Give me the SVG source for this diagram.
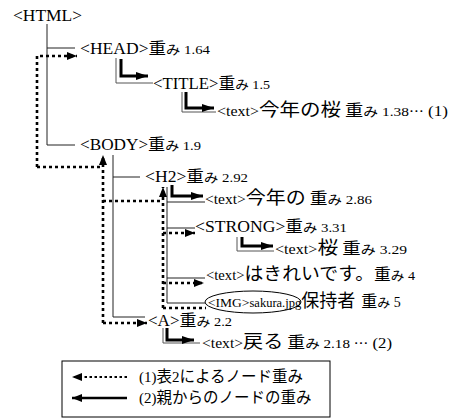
<svg xmlns="http://www.w3.org/2000/svg" width="452" height="419" viewBox="0 0 452 419">
<style>
.t{font-family:"Liberation Serif","Noto Sans CJK JP",serif;font-size:16px;fill:#000}
.s{font-size:14px}
.j{font-family:"Noto Sans CJK JP",sans-serif;font-size:18px}
.w{font-family:"Noto Sans CJK JP",sans-serif;font-size:16px}
.m{font-family:"Noto Sans CJK JP",sans-serif;font-size:13px}
.n{font-size:13.5px}
.p{font-size:15px}
.lg{font-family:"Noto Sans CJK JP",sans-serif;font-size:15.5px}
.thin{fill:none;stroke:#222;stroke-width:1}
.gray{fill:none;stroke:#555;stroke-width:1}
.thick{fill:none;stroke:#000;stroke-width:3}
.dot{fill:none;stroke:#000;stroke-width:2.6;stroke-dasharray:3 3}
</style>
<defs>
<marker id="ah" markerUnits="userSpaceOnUse" markerWidth="12" markerHeight="8" refX="12" refY="4" orient="auto"><path d="M0,0 L12,4 L0,8 z" fill="#000"/></marker>
<marker id="ad" markerUnits="userSpaceOnUse" markerWidth="10" markerHeight="8" refX="10" refY="4" orient="auto"><path d="M0,0 L10,4 L0,8 z" fill="#000"/></marker>
</defs>
<g id="connectors">
<path class="thin" d="M47,24 V145 H75 M47,48 H75"/>
<path class="thin" d="M113,155 V317 H145 M113,177 H140"/>
<path class="thin" d="M167,187 V303 H205 M167,202 H205 M167,228 H195 M167,278 H205"/>
<path class="gray" d="M116,58 V83 H153"/>
<path class="thick" d="M121,59 V76 H148" marker-end="url(#ah)"/>
<path class="gray" d="M182,92 V112 H216"/>
<path class="thick" d="M186,92 V108 H214" marker-end="url(#ah)"/>
<path class="thick" d="M172,185 V196 H203" marker-end="url(#ah)"/>
<path class="gray" d="M237,237 V251 H274"/>
<path class="thick" d="M242,237 V246 H273" marker-end="url(#ah)"/>
<path class="gray" d="M163,328 V343 H200"/>
<path class="thick" d="M167,328 V340 H194" marker-end="url(#ah)"/>
<path class="dot" d="M37,167 V56 H77" marker-end="url(#ad)"/>
<path class="dot" d="M37,167 H103"/>
<path class="dot" d="M103,323 V155" marker-end="url(#ad)"/>
<path class="dot" d="M103,323 H147" marker-end="url(#ad)"/>
<path class="dot" d="M103,201 H163"/>
<path class="dot" d="M163,308 V187" marker-end="url(#ad)"/>
<path class="dot" d="M163,233 H195" marker-end="url(#ad)"/>
<path class="dot" d="M163,283 H204" marker-end="url(#ad)"/>
<path class="dot" d="M163,308 H206"/>
</g>
<g id="html"><text class="t" x="13" y="21" textLength="69" lengthAdjust="spacingAndGlyphs">&lt;HTML&gt;</text></g>
<g id="head"><text class="t" x="80" y="54" textLength="130" lengthAdjust="spacingAndGlyphs">&lt;HEAD&gt;<tspan class="w">重</tspan><tspan class="m">み</tspan><tspan class="n"> 1.64</tspan></text></g>
<g id="title"><text class="t" x="153" y="89" textLength="117" lengthAdjust="spacingAndGlyphs">&lt;TITLE&gt;<tspan class="w">重</tspan><tspan class="m">み</tspan><tspan class="n"> 1.5</tspan></text></g>
<g id="text1"><text class="t" x="217" y="116" textLength="231" lengthAdjust="spacingAndGlyphs"><tspan class="s">&lt;text&gt;</tspan><tspan class="j">今年の桜</tspan><tspan class="w">  重</tspan><tspan class="m">み</tspan><tspan class="n"> 1.38</tspan><tspan class="m">…</tspan><tspan class="p"> (1)</tspan></text></g>
<g id="body"><text class="t" x="80" y="150" textLength="121" lengthAdjust="spacingAndGlyphs">&lt;BODY&gt;<tspan class="w">重</tspan><tspan class="m">み</tspan><tspan class="n"> 1.9</tspan></text></g>
<g id="h2"><text class="t" x="145" y="182" textLength="103" lengthAdjust="spacingAndGlyphs">&lt;H2&gt;<tspan class="w">重</tspan><tspan class="m">み</tspan><tspan class="n"> 2.92</tspan></text></g>
<g id="text2"><text class="t" x="205" y="204" textLength="167" lengthAdjust="spacingAndGlyphs"><tspan class="s">&lt;text&gt;</tspan><tspan class="j">今年の</tspan><tspan class="w"> 重</tspan><tspan class="m">み</tspan><tspan class="n"> 2.86</tspan></text></g>
<g id="strong"><text class="t" x="195" y="232" textLength="152" lengthAdjust="spacingAndGlyphs">&lt;STRONG&gt;<tspan class="w">重</tspan><tspan class="m">み</tspan><tspan class="n"> 3.31</tspan></text></g>
<g id="text3"><text class="t" x="275" y="254" textLength="132" lengthAdjust="spacingAndGlyphs"><tspan class="s">&lt;text&gt;</tspan><tspan class="j">桜</tspan><tspan class="w"> 重</tspan><tspan class="m">み</tspan><tspan class="n"> 3.29</tspan></text></g>
<g id="text4"><text class="t" x="206" y="280" textLength="209" lengthAdjust="spacingAndGlyphs"><tspan class="s">&lt;text&gt;</tspan><tspan class="j">はきれいです。</tspan><tspan class="w">重</tspan><tspan class="m">み</tspan><tspan class="n"> 4</tspan></text></g>
<g id="img"><ellipse cx="253" cy="302" rx="48" ry="11" fill="none" stroke="#000" stroke-width="1"/><text class="t" x="208" y="307"><tspan font-size="13.5">&lt;IMG&gt;</tspan><tspan font-size="12.5">sakura.jpg</tspan><tspan class="j" font-size="19">保持者</tspan><tspan class="w" dx="6" font-size="17">重</tspan><tspan class="m" font-size="14">み</tspan><tspan font-size="14"> 5</tspan></text></g>
<g id="a"><text class="t" x="148" y="326" textLength="84" lengthAdjust="spacingAndGlyphs">&lt;A&gt;<tspan class="w">重</tspan><tspan class="m">み</tspan><tspan class="n"> 2.2</tspan></text></g>
<g id="text5"><text class="t" x="202" y="348" textLength="190" lengthAdjust="spacingAndGlyphs"><tspan class="s">&lt;text&gt;</tspan><tspan class="j">戻る</tspan><tspan class="w"> 重</tspan><tspan class="m">み</tspan><tspan class="n"> 2.18 </tspan><tspan class="m">…</tspan><tspan class="p"> (2)</tspan></text></g>
<g id="legend">
<rect x="62" y="361" width="268" height="56" fill="none" stroke="#000" stroke-width="1"/>
<path class="dot" d="M127,377 H72" marker-end="url(#ad)" style="stroke-width:2;stroke-dasharray:2.5 2.5"/>
<path d="M127,398 H72" stroke="#000" stroke-width="2.5" fill="none" marker-end="url(#ad)"/>
<text class="t" x="139" y="382"><tspan class="p">(1)</tspan><tspan class="lg">表</tspan><tspan class="p">2</tspan><tspan class="lg">によるノード重み</tspan></text>
<text class="t" x="139" y="403"><tspan class="p">(2)</tspan><tspan class="lg">親からのノードの重み</tspan></text>
</g>
</svg>
